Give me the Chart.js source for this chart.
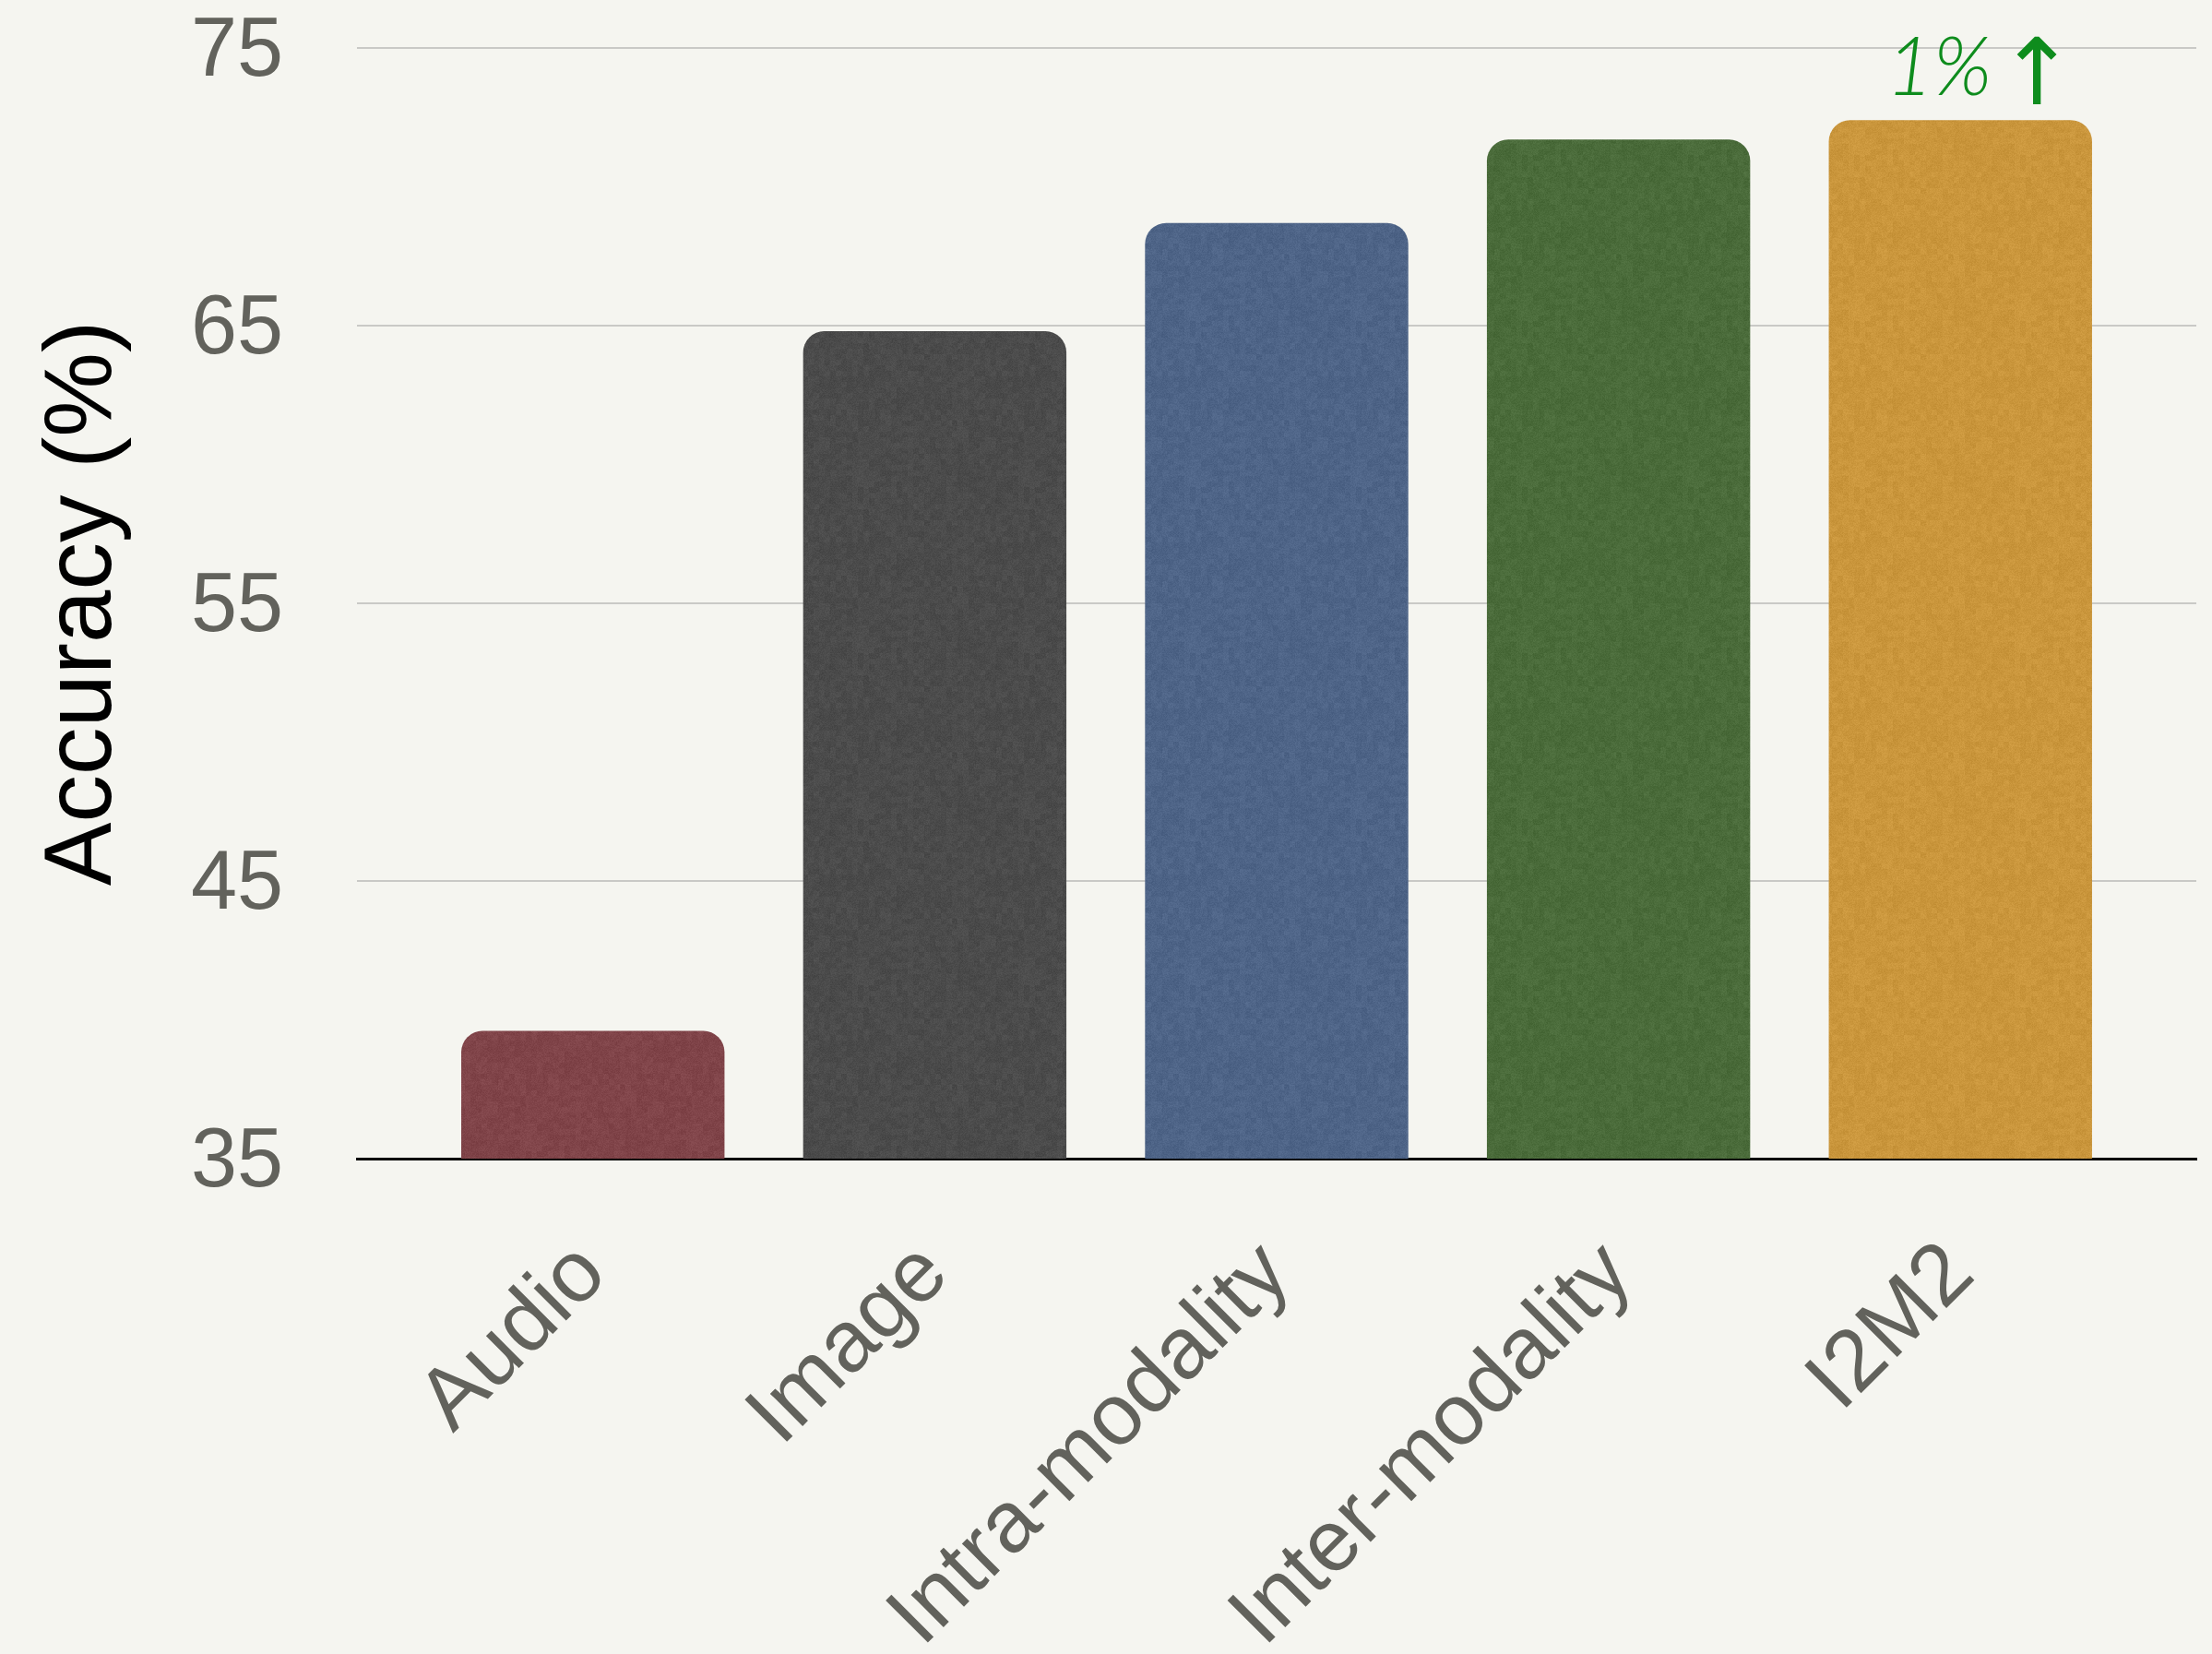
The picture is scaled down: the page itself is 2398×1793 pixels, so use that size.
<!DOCTYPE html>
<html>
<head>
<meta charset="utf-8">
<script src="https://cdn.jsdelivr.net/npm/chart.js@4.4.0/dist/chart.umd.min.js"></script>
<style>
  html, body { margin: 0; padding: 0; background: #f5f5f0; }
  #wrap { width: 2398px; height: 1793px; }
</style>
</head>
<body>
<div id="wrap"><canvas id="accChart"></canvas></div>
<script>
// values
var categories = ['Audio', 'Image', 'Intra-modality', 'Inter-modality', 'I2M2'];
var accuracy = [39.6, 64.8, 68.7, 71.7, 72.4];
var barColors = ['#804449', '#4b4b4b', '#4e6487', '#4a6b3a', '#ca963c'];
var yTicks = [35, 45, 55, 65, 75];

// annotation above the last bar
var gainLabel = '1%';
var gainArrow = '↑';
var gainIndex = 4;

var sansFont = "'Liberation Sans', Arial, sans-serif";
var tickColor = '#62625c';

// subtle felt-like texture for the bars
function feltPattern(hex) {
  var size = 180, cv = document.createElement('canvas');
  cv.width = cv.height = size;
  var g = cv.getContext('2d');
  g.fillStyle = hex;
  g.fillRect(0, 0, size, size);
  var img = g.getImageData(0, 0, size, size), d = img.data;
  for (var py = 0; py < size; py++) {
    for (var px = 0; px < size; px++) {
      var h = Math.sin(px * 12.9898 + py * 78.233) * 43758.5453;
      var h2 = Math.sin(Math.floor(px / 6) * 39.346 + Math.floor(py / 6) * 11.135) * 24634.6345;
      var n = (h - Math.floor(h) - 0.5) * 12 + (h2 - Math.floor(h2) - 0.5) * 8;
      var k = (py * size + px) * 4;
      d[k] += n; d[k + 1] += n; d[k + 2] += n;
    }
  }
  g.putImageData(img, 0, 0);
  return g.createPattern(cv, 'repeat');
}

var bgPlugin = {
  id: 'bg',
  beforeDraw: function(chart) {
    var c = chart.ctx;
    c.save();
    c.fillStyle = '#f5f5f0';
    c.fillRect(0, 0, chart.width, chart.height);
    c.restore();
  }
};

var gainPlugin = {
  id: 'gain',
  afterDatasetsDraw: function(chart) {
    var c = chart.ctx, xs = chart.scales.x, ys = chart.scales.y;
    var x = xs.getPixelForValue(gainIndex);
    var y = ys.getPixelForValue(accuracy[gainIndex]) - 27;
    c.save();
    c.fillStyle = '#0e8c1d';
    c.textBaseline = 'alphabetic';
    c.font = "italic 300 88px Lato, 'Noto Sans', sans-serif";
    c.textAlign = 'right';
    c.fillText(gainLabel, x + 34, y);
    c.font = "100px 'DejaVu Sans', sans-serif";
    c.textAlign = 'center';
    c.fillText(gainArrow, x + 83, y + 10);
    c.restore();
  }
};

var ctx = document.getElementById('accChart');
new Chart(ctx, {
  type: 'bar',
  data: {
    datasets: [{
      data: categories.map(function(c, i) { return { x: i, y: accuracy[i] }; }),
      backgroundColor: barColors.map(feltPattern),
      borderRadius: 23,
      borderSkipped: 'start',
      barPercentage: 0.77,
      categoryPercentage: 1
    }]
  },
  options: {
    responsive: true,
    maintainAspectRatio: false,
    devicePixelRatio: 1,
    animation: false,
    layout: { padding: { top: 52, right: 17, left: 0, bottom: 0 } },
    plugins: {
      legend: { display: false },
      tooltip: { enabled: false }
    },
    scales: {
      x: {
        type: 'linear',
        min: -0.69,
        max: 4.69,
        offset: false,
        afterBuildTicks: function(scale) {
          scale.ticks = categories.map(function(c, i) { return { value: i }; });
        },
        afterFit: function(scale) { scale.height = 537; },
        ticks: {
          callback: function(v) { return categories[v]; },
          minRotation: 45,
          maxRotation: 45,
          autoSkip: false,
          padding: 62,
          font: { family: sansFont, size: 94 },
          color: tickColor
        },
        grid: { display: false },
        border: { display: true, color: '#000', width: 3 }
      },
      y: {
        min: 35,
        max: 75,
        afterBuildTicks: function(scale) {
          scale.ticks = yTicks.map(function(v) { return { value: v }; });
        },
        afterFit: function(scale) {
          // keep the plot top/bottom where the reference has them
          scale.width = 387;
          scale.paddingTop = 0;
          scale.paddingBottom = 0;
        },
        ticks: {
          padding: 80,
          labelOffset: 5,
          font: { family: sansFont, size: 90 },
          color: tickColor
        },
        grid: { color: '#c9c9c6', lineWidth: 2, drawTicks: false },
        border: { display: false },
        title: {
          display: true,
          text: 'Accuracy (%)',
          color: '#000',
          font: { family: sansFont, size: 103 },
          padding: { top: 30, bottom: 0 }
        }
      }
    }
  },
  plugins: [bgPlugin, gainPlugin]
});
</script>
</body>
</html>
